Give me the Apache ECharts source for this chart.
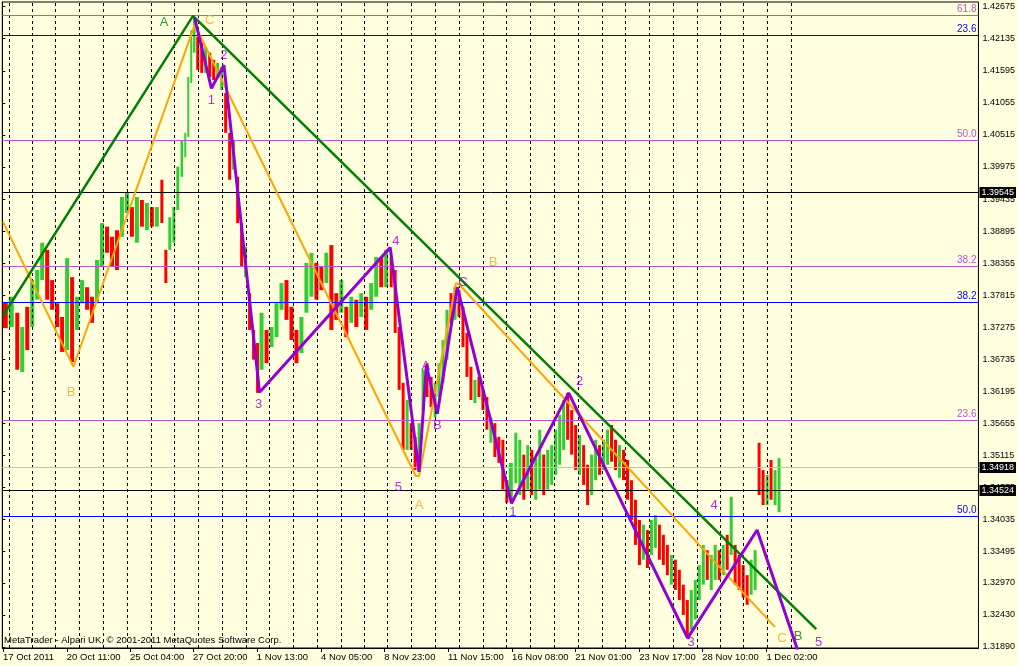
<!DOCTYPE html>
<html><head><meta charset="utf-8">
<script src="https://cdn.jsdelivr.net/npm/echarts@6/dist/echarts.min.js"></script>
<style>html,body{margin:0;padding:0;background:#FFFFE0;}#c{width:1018px;height:666px;}</style>
</head><body><div id="c"></div><script>
// ---- Price bars (grouped hourly bars): time index, high, low, up(1)/down(0)
const BAR_T = [3,9,15,20,25,30,35,40,45,50,55,60,65,70,75,80,85,90,95,100,105,110,115,120,125,130,135,140,145,150,155,160,
164,168,172,176,180,183.5,186.5,189.5,192.5,196,200,204,208,212,216,220,224,228,232,236,240,244,248,252,256,260,
265,270,275,280,285,290,295,300,305,310,315,320,325,330,335,340,345,350,355,360,365,370,375,380,385,390,
394,398,402,406,410,414,418,422,426,430,434,438,442,446,450,454,458,462,466,470,474,478,482,486,490,494,498,502,506,510,515,
519,523,527,531,535,539,543,547,551,555,559,563,567,571,575,579,583,587,591,595,599,603,607,611,615,619,623,627,631,635,639,643,647,651,655,659,663,667,671,675,679,683,687,691,695,699,703,707,711,715,719,723,727,731,735,739,743,747,751,755,759,763,767,771,775,779];
const BAR_HIGH = [1.3770,1.3779,1.3752,1.3728,1.3762,1.3807,1.3824,1.3870,1.3858,1.3807,1.3768,1.3745,1.3844,1.3812,1.3779,1.3807,1.3795,1.3779,1.3841,1.3903,1.3897,1.3880,1.3891,1.3947,1.3954,1.3930,1.3947,1.3942,1.3937,1.3930,1.3930,1.3976,
1.3858,1.3913,1.3930,1.3998,1.4043,1.4055,1.4149,1.4228,1.4250,1.4217,1.4206,1.4200,1.4190,1.4178,1.4173,1.4166,1.4122,1.4055,1.4043,1.3981,1.3903,1.3863,1.3785,1.3723,1.3701,1.3752,
1.3723,1.3728,1.3768,1.3802,1.3807,1.3762,1.3723,1.3745,1.3836,1.3853,1.3836,1.3829,1.3853,1.3866,1.3785,1.3807,1.3762,1.3779,1.3774,1.3785,1.3779,1.3802,1.3846,1.3846,1.3858,1.3846,
1.3824,1.3728,1.3634,1.3605,1.3566,1.3543,1.3566,1.3656,1.3667,1.3644,1.3634,1.3667,1.3706,1.3757,1.3785,1.3795,1.3790,1.3762,1.3718,1.3661,1.3639,1.3644,1.3622,1.3610,1.3576,1.3566,1.3543,1.3538,1.3470,1.3499,1.3550,
1.3538,1.3513,1.3529,1.3521,1.3507,1.3555,1.3513,1.3521,1.3529,1.3555,1.3580,1.3605,1.3617,1.3588,1.3563,1.3546,1.3529,1.3496,1.3513,1.3538,1.3529,1.3538,1.3555,1.3563,1.3538,1.3529,1.3521,1.3504,1.3470,1.3437,1.3403,1.3395,1.3386,1.3403,1.3411,1.3395,1.3378,1.3361,1.3344,1.3336,1.3319,1.3294,1.3268,1.3285,1.3302,1.3327,1.3361,1.3352,1.3344,1.3361,1.3352,1.3361,1.3378,1.3442,1.3361,1.3344,1.3327,1.3310,1.3336,1.3352,1.3533,1.3487,1.3479,1.3504,1.3487,1.3507];
const BAR_LOW = [1.3726,1.3728,1.3656,1.3652,1.3689,1.3728,1.3774,1.3807,1.3774,1.3757,1.3728,1.3686,1.3689,1.3669,1.3723,1.3768,1.3757,1.3735,1.3768,1.3829,1.3853,1.3829,1.3824,1.3880,1.3920,1.3880,1.3870,1.3897,1.3891,1.3897,1.3897,1.3903,
1.3802,1.3858,1.3870,1.3925,1.3981,1.4014,1.4048,1.4139,1.4190,1.4161,1.4156,1.4156,1.4149,1.4144,1.4149,1.4127,1.4055,1.3976,1.3993,1.3903,1.3829,1.3812,1.3723,1.3673,1.3617,1.3656,
1.3667,1.3694,1.3711,1.3757,1.3740,1.3706,1.3667,1.3684,1.3752,1.3779,1.3774,1.3790,1.3802,1.3723,1.3740,1.3752,1.3711,1.3735,1.3728,1.3745,1.3723,1.3757,1.3779,1.3795,1.3795,1.3795,
1.3718,1.3622,1.3521,1.3521,1.3521,1.3487,1.3484,1.3588,1.3610,1.3593,1.3576,1.3610,1.3634,1.3673,1.3735,1.3740,1.3745,1.3694,1.3644,1.3605,1.3600,1.3610,1.3588,1.3555,1.3533,1.3509,1.3499,1.3454,1.3432,1.3437,1.3465,
1.3445,1.3437,1.3454,1.3445,1.3437,1.3454,1.3445,1.3454,1.3462,1.3479,1.3496,1.3521,1.3538,1.3513,1.3487,1.3479,1.3462,1.3428,1.3445,1.3470,1.3479,1.3487,1.3496,1.3501,1.3487,1.3474,1.3470,1.3437,1.3403,1.3361,1.3327,1.3336,1.3322,1.3344,1.3356,1.3336,1.3327,1.3310,1.3294,1.3285,1.3268,1.3243,1.3208,1.3218,1.3235,1.3268,1.3294,1.3302,1.3285,1.3302,1.3302,1.3310,1.3319,1.3344,1.3294,1.3285,1.3272,1.3260,1.3277,1.3285,1.3445,1.3428,1.3428,1.3437,1.3428,1.3416];
const BAR_UP = [0,1,0,1,0,1,1,1,0,0,0,0,1,0,1,1,0,0,1,1,0,0,0,1,1,0,1,0,1,0,1,0,
0,1,1,1,1,1,1,1,1,0,0,1,0,0,1,1,0,0,1,0,0,1,0,0,0,1,
0,1,1,1,0,0,0,1,1,1,0,0,1,0,0,1,0,1,0,1,0,1,1,0,1,0,
0,0,0,1,0,0,1,1,0,0,1,1,1,1,0,1,0,0,0,0,1,0,0,0,1,0,0,0,0,1,1,
1,0,1,0,1,1,0,1,1,1,1,1,0,0,0,1,0,0,1,1,0,1,1,0,0,1,0,0,0,0,0,1,0,1,1,0,0,0,1,0,0,0,0,1,1,1,1,0,1,1,0,1,0,1,0,0,0,0,1,1,0,0,1,0,1,1];

// ---- Axis labels
const Y_TICK_LABELS = ['1.31890','1.32430','1.32970','1.33495','1.34035','1.34575','1.35115','1.35655','1.36195','1.36735','1.37275','1.37815','1.38355','1.38895','1.39435','1.39975','1.40515','1.41055','1.41595','1.42135','1.42675'];
const X_TICK_T = [0.7,64.7,128,191.3,255.3,319.7,383,447,511.3,574.7,638.7,702,766.3];
const X_TICK_LABELS = ['17 Oct 2011','20 Oct 11:00','25 Oct 04:00','27 Oct 20:00','1 Nov 13:00','4 Nov 05:00','8 Nov 23:00','11 Nov 15:00','16 Nov 08:00','21 Nov 01:00','23 Nov 17:00','28 Nov 10:00','1 Dec 02:00'];
const DAY_SEPARATORS = [6.5,30.5,53.5,77.5,101.5,125.5,149.5,172.5,196.5,220.5,244.5,267.5,291.5,315.5,339.5,363.5,386.5,410.5,434.5,458.5,482.5,505.5,529.5,553.5,577.5,601.5,624.5,648.5,672.5,696.5,720.5,743.5,767.5,791.5];

// ---- Fibonacci levels and price lines
const PURPLE_FIB = [[1.42527,'61.8'],[1.40421,'50.0'],[1.38299,'38.2'],[1.35705,'23.6']];
const BLUE_FIB = [[1.42190,'23.6'],[1.37693,'38.2'],[1.34088,'50.0']];
const PRICE_LINES = [[1.39545,'1.39545','#000000'],[1.34913,'1.34918','#C0C0C0'],[1.34526,'1.34524','#000000']];

// ---- Wave lines
const GREEN_WAVE = [[0.7,1.3747],[191.3,1.4252],[816.3,1.3219]];
const ORANGE_WAVE = [[0.7,1.3905],[71.3,1.3661],[193,1.4237],[414.7,1.3477],[418,1.3477],[455,1.3802],[458,1.3800],[774.7,1.3223]];
const PURPLE_WAVE = [[193,1.4248],[209.7,1.4130],[222.3,1.4169],[258,1.3618],[389,1.3862],[418,1.3484],[425.3,1.3664],[436.3,1.3582],[456.3,1.3795],[510.7,1.3431],[568,1.3617],[687.3,1.3204],[757,1.3386],[801,1.3167]];

// ---- Wave tags
const GREEN_TAGS = [[162.3,1.4241,'A'],[798,1.3206,'B']];
const ORANGE_TAGS = [[208,1.4245,'C'],[69,1.3617,'B'],[418,1.3427,'A'],[492.3,1.3836,'B'],[782,1.3204,'C']];
const PURPLE_TAGS = [[209.7,1.4110,'1'],[222.3,1.4186,'2'],[257,1.3597,'3'],[394.7,1.3872,'4'],[397.3,1.3458,'5'],[424.7,1.3661,'A'],[436.3,1.3563,'B'],[462,1.3803,'C'],[512,1.3415,'1'],[579,1.3637,'2'],[690.7,1.3197,'3'],[714,1.3427,'4'],[818.7,1.3197,'5']];

const FONT = '"Liberation Sans", Arial, sans-serif';
const UP_COLOR = '#32CD32', DOWN_COLOR = '#FF0000';
const Y_TICK_VALUES = Y_TICK_LABELS.map(Number);

function nearestLabel(values, labels, v){
  let best = 0, bd = Infinity;
  values.forEach((x,i)=>{ const d = Math.abs(x - v); if (d < bd){ bd = d; best = i; } });
  return labels[best];
}

function renderBar(params, api){
  const i = params.dataIndex;
  const t = api.value(0);
  const top = api.coord([t, api.value(2)]);
  const bot = api.coord([t, api.value(1)]);
  const step = i < BAR_T.length - 1 ? BAR_T[i+1] - t : t - BAR_T[i-1];
  const w = Math.max(1.5, api.size([step, 0])[0] - 1);
  return {type:'rect', shape:{x: top[0] - w/2, y: top[1], width: w, height: Math.max(1, bot[1] - top[1])},
          style:{fill: api.value(3) ? UP_COLOR : DOWN_COLOR}};
}

function tagSeries(tags, color){
  return {type:'scatter', symbolSize:0, z:6, silent:true,
    data: tags.map(d => ({value:[d[0], d[1]], name:d[2]})),
    label:{show:true, position:'inside', formatter:'{b}', color:color, fontSize:13, fontFamily:FONT}};
}
function waveSeries(data, color, width){
  return {type:'line', data:data, showSymbol:false, symbol:'none', z:5, silent:true, clip:true,
    lineStyle:{color:color, width:width}};
}

const chart = echarts.init(document.getElementById('c'), null, {renderer:'canvas'});
chart.setOption({
  animation:false,
  backgroundColor:'#FFFFE0',
  textStyle:{fontFamily:FONT},
  grid:{left:2, right:37, top:2, bottom:18, show:true, borderColor:'#000', borderWidth:1, backgroundColor:'#FFFFE0'},
  xAxis:{type:'value', min:0, max:979,
    axisLine:{show:true, lineStyle:{color:'#000', width:1}},
    axisTick:{show:true, length:4, customValues:X_TICK_T, lineStyle:{color:'#000'}},
    axisLabel:{show:true, customValues:X_TICK_T, align:'left', margin:4, color:'#000', fontSize:9.5, fontFamily:FONT,
      formatter: v => nearestLabel(X_TICK_T, X_TICK_LABELS, v)},
    splitLine:{show:false}},
  yAxis:{type:'value', position:'right', min:1.31873, max:1.42754, scale:true,
    axisLine:{show:true, lineStyle:{color:'#000', width:1}},
    axisTick:{show:true, length:3, customValues:Y_TICK_VALUES, lineStyle:{color:'#000'}},
    axisLabel:{show:true, customValues:Y_TICK_VALUES, margin:4, color:'#000', fontSize:9, fontFamily:FONT,
      formatter: v => nearestLabel(Y_TICK_VALUES, Y_TICK_LABELS, v)},
    splitLine:{show:false}},
  graphic:[{type:'text', left:4, top:635, z:10, silent:true,
    style:{text:'MetaTrader - Alpari UK, \u00a9 2001-2011 MetaQuotes Software Corp.', fill:'#000', font:'9.5px ' + FONT}}],
  series:[
    {type:'line', data:[], z:1, silent:true,
      markLine:{silent:true, precision:6, symbol:['none','none'], label:{show:false}, animation:false,
        lineStyle:{color:'#000', width:1, type:[3,3]},
        data: DAY_SEPARATORS.map(v => ({xAxis:v}))}},
    {type:'custom', renderItem:renderBar, z:2, silent:true, clip:true,
      encode:{x:0, y:[1,2]},
      data: BAR_T.map((t,i) => [t, BAR_LOW[i], BAR_HIGH[i], BAR_UP[i]])},
    {type:'line', data:[], z:3, silent:true,
      markLine:{silent:true, precision:6, symbol:['none','none'], animation:false,
        data: PURPLE_FIB.map(d => ({yAxis:d[0], lineStyle:{color:'#BA55D3', width:1, type:'solid'},
              label:{show:true, position:'insideEndTop', formatter:d[1], color:'#BA55D3', fontSize:10, distance:[2,1], fontFamily:FONT}}))
          .concat(BLUE_FIB.map(d => ({yAxis:d[0], lineStyle:{color:'#0000FF', width:1, type:'solid'},
              label:{show:true, position:'insideEndTop', formatter:d[1], color:'#0000FF', fontSize:10, distance:[2,1], fontFamily:FONT}})))
          .concat(PRICE_LINES.map(d => ({yAxis:d[0], lineStyle:{color:d[2], width:1, type:'solid'},
              label:{show:true, position:'end', formatter: d[1], color:'#fff', backgroundColor:'#000',
                     padding:[1,2,0,2], fontSize:9, lineHeight:10, distance:1, fontFamily:FONT}})))}},
    waveSeries(ORANGE_WAVE, '#FFA500', 2),
    waveSeries(GREEN_WAVE, '#008000', 2.5),
    waveSeries(PURPLE_WAVE, '#9400D3', 3),
    tagSeries(GREEN_TAGS, '#008000'),
    tagSeries(ORANGE_TAGS, '#FFA500'),
    tagSeries(PURPLE_TAGS, '#9400D3')
  ]
});
</script></body></html>
